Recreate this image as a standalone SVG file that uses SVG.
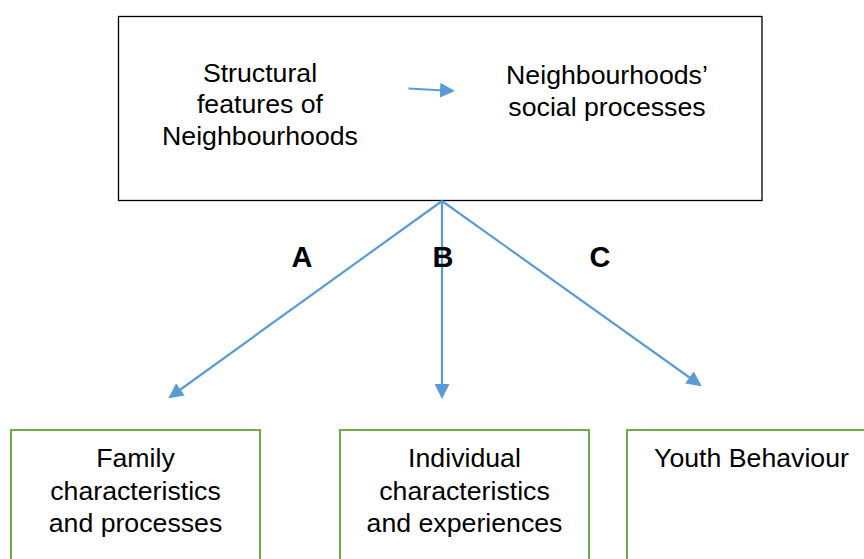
<svg xmlns="http://www.w3.org/2000/svg" width="864" height="559" viewBox="0 0 864 559">
<style>
text{font-family:"Liberation Sans",Arial,sans-serif;font-size:26.7px;fill:#000;text-anchor:middle}
.lbl{font-weight:bold;font-size:29px}
.top{fill:#fff;stroke:#000;stroke-width:1.3}
.g{fill:#fff;stroke:#70AD47;stroke-width:2}
.c{stroke:#5B9BD5;stroke-width:2.2;fill:none}
</style>
<defs>
<marker id="ah" markerWidth="10" markerHeight="10" refX="9" refY="5" orient="auto" markerUnits="userSpaceOnUse" viewBox="0 0 10 10">
<path d="M0,0 L10,5 L0,10 z" fill="#5B9BD5"/>
</marker>
<marker id="ah2" markerWidth="15" markerHeight="15" refX="13" refY="7.5" orient="auto" markerUnits="userSpaceOnUse" viewBox="0 0 15 15">
<path d="M0,0 L15,7.5 L0,15 z" fill="#5B9BD5"/>
</marker>
</defs>
<g id="top-box">
<rect class="top" x="118.5" y="16.5" width="643.5" height="184"/>
<text x="260" y="81.7">Structural</text>
<text x="260" y="113.3">features of</text>
<text x="260" y="145">Neighbourhoods</text>
<text x="607" y="83.5">Neighbourhoods’</text>
<text x="607" y="115.5">social processes</text>
</g>
<g id="family">
<rect class="g" x="11" y="430" width="249" height="140"/>
<text x="135.5" y="467">Family</text>
<text x="135.5" y="500">characteristics</text>
<text x="135.5" y="532">and processes</text>
</g>
<g id="individual">
<rect class="g" x="340" y="430" width="249" height="140"/>
<text x="464.5" y="467">Individual</text>
<text x="464.5" y="500">characteristics</text>
<text x="464.5" y="532">and experiences</text>
</g>
<g id="youth">
<rect class="g" x="627" y="430" width="249" height="140"/>
<text x="751.5" y="467">Youth Behaviour</text>
</g>
<g id="connectors">
<line class="c" x1="408.5" y1="88.5" x2="453" y2="91" marker-end="url(#ah2)"/>
<line class="c" x1="442" y1="201" x2="170" y2="397" marker-end="url(#ah2)"/>
<line class="c" x1="442" y1="201" x2="442" y2="397" marker-end="url(#ah2)"/>
<line class="c" x1="442" y1="201" x2="700" y2="385" marker-end="url(#ah2)"/>
</g>
<g id="labels">
<text class="lbl" x="302" y="267">A</text>
<text class="lbl" x="443" y="267">B</text>
<text class="lbl" x="600" y="267">C</text>
</g>
</svg>
